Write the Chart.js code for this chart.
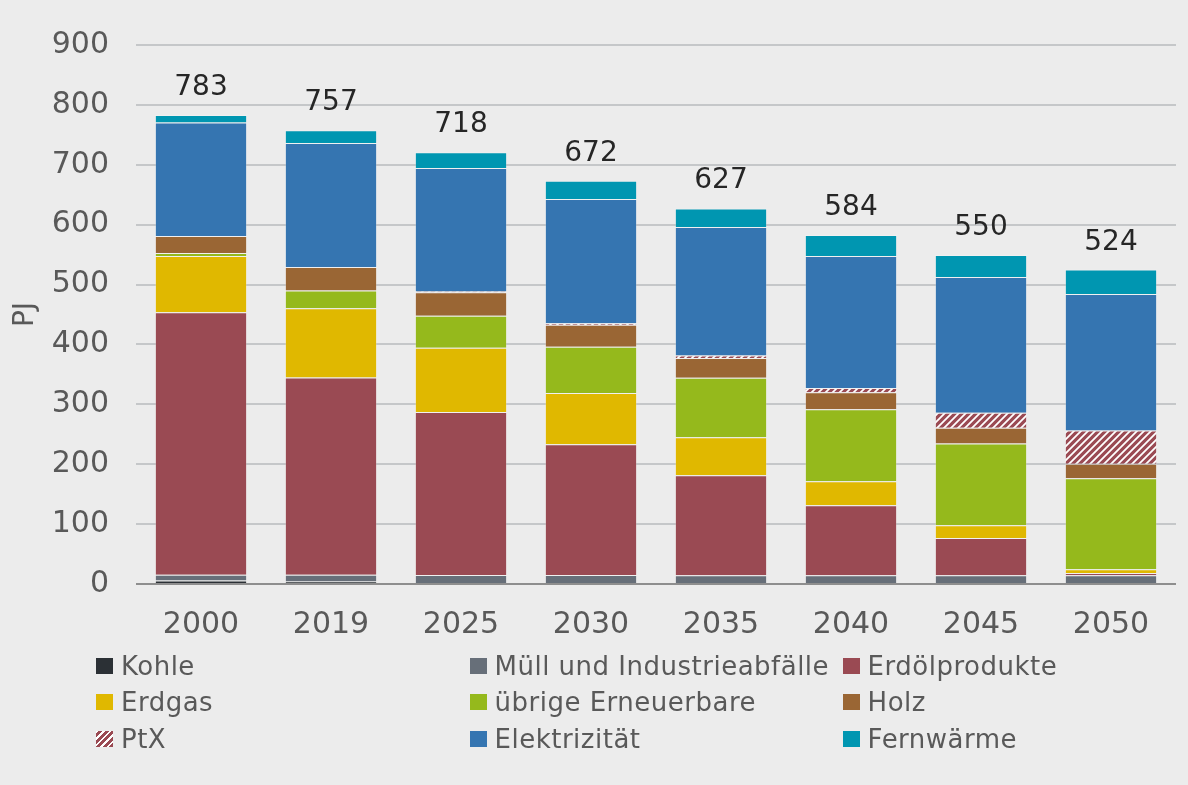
<!DOCTYPE html>
<html><head><meta charset="utf-8">
<script src="https://cdn.jsdelivr.net/npm/chart.js@4.4.1/dist/chart.umd.min.js"></script>
<style>
html,body{margin:0;padding:0;background:#ececec;}
#wrap{position:relative;width:1188px;height:785px;overflow:hidden;background:#ececec;}
canvas{position:absolute;left:0;top:0;}
.lg{position:absolute;height:30px;display:flex;align-items:center;font-family:"DejaVu Sans";font-size:26px;color:#595959;letter-spacing:0.5px;white-space:nowrap;}
.sw{width:17px;height:16px;margin-right:8px;flex:none;}
</style></head>
<body><div id="wrap"><canvas id="c" width="1188" height="785"></canvas><div id="legend"></div></div>
<script>
// ---- data (PJ) ----
const years = ['2000','2019','2025','2030','2035','2040','2045','2050'];
const kohle   = [6, 4, 0, 0, 0, 0, 0, 0];
const muell   = [9.5, 11.5, 15, 15, 14.5, 14.5, 14.5, 14.5];
const erdoel  = [438.3, 329.5, 272.2, 218.3, 167.2, 117.2, 62.2, 3.8];
const erdgas  = [94, 115.5, 107.3, 85.6, 63.3, 40, 21.6, 6.2];
const uebrige = [5, 29.5, 53.3, 77.2, 99.4, 120, 136.1, 152.2];
const holz    = [28.4, 39.5, 39.5, 36.7, 32.8, 28.3, 26.7, 23.9];
const ptx     = [0, 0, 1, 2.7, 4.5, 7.2, 25, 55.5];
const elektr  = [189.3, 206.7, 206.4, 207.3, 214.4, 220.6, 226.7, 228.3];
const fernw   = [12.8, 21.6, 26.1, 30.5, 31.1, 35, 36.6, 40.6];
const totals  = [783, 757, 718, 672, 627, 584, 550, 524];
const yTicks  = [0,100,200,300,400,500,600,700,800,900];

const names = ['Kohle','Müll und Industrieabfälle','Erdölprodukte','Erdgas','übrige Erneuerbare','Holz','PtX','Elektrizität','Fernwärme'];
const series = [kohle, muell, erdoel, erdgas, uebrige, holz, ptx, elektr, fernw];
const colors = ['#2b3035','#676f79','#9a4a53','#e0b800','#95b91c','#9a6634','PATTERN','#3575b1','#0096b1'];

function hatch(){
  const s=7; const c=document.createElement('canvas'); c.width=s; c.height=s;
  const g=c.getContext('2d');
  g.fillStyle='#9a4a53'; g.fillRect(0,0,s,s);
  g.strokeStyle='#ffffff'; g.lineWidth=1.8; g.beginPath();
  g.moveTo(0,s); g.lineTo(s,0);
  g.moveTo(-1,1); g.lineTo(1,-1);
  g.moveTo(s-1,s+1); g.lineTo(s+1,s-1);
  g.stroke();
  return document.getElementById('c').getContext('2d').createPattern(c,'repeat');
}
const pat = hatch();

const FONT = 'DejaVu Sans';
const datasets = series.map((d,i)=>({
  label: names[i], data: d,
  backgroundColor: colors[i]==='PATTERN' ? pat : colors[i],
  borderColor: 'rgba(255,255,255,0.22)', borderWidth: 1,
  barPercentage: 0.71, categoryPercentage: 1.0
}));

const totalsPlugin = {
  id:'totals',
  afterDatasetsDraw(chart){
    const ctx=chart.ctx;
    const n=chart.data.datasets.length;
    ctx.save();
    ctx.font='28px "'+FONT+'"'; ctx.fillStyle='#262626';
    ctx.textAlign='center'; ctx.textBaseline='alphabetic';
    chart.getDatasetMeta(n-1).data.forEach((bar,i)=>{
      ctx.fillText(String(totals[i]), bar.x, bar.y-20);
    });
    ctx.restore();
  }
};

new Chart(document.getElementById('c'), {
  type:'bar',
  data:{labels:years, datasets},
  plugins:[totalsPlugin],
  options:{
    responsive:false, animation:false, devicePixelRatio:1,
    layout:{padding:{top:43, right:12, bottom:141, left:0}},
    plugins:{legend:{display:false}, tooltip:{enabled:false}},
    scales:{
      x:{stacked:true,
         grid:{display:false, drawTicks:false}, border:{display:false},
         ticks:{font:{family:FONT,size:30}, color:'#595959', padding:23},
         afterFit(s){ s.height=60; }},
      y:{stacked:true, min:0, max:900,
         afterBuildTicks(s){ s.ticks = yTicks.map(v=>({value:v})); },
         ticks:{font:{family:FONT,size:30}, color:'#595959', padding:27},
         grid:{color:c=>c.tick && c.tick.value===0 ? '#8e8e8e' : '#c5c7c9', lineWidth:2, drawTicks:false},
         border:{display:false},
         title:{display:true, text:'PJ', font:{family:FONT,size:28}, color:'#595959', padding:{top:9,bottom:0}},
         afterFit(s){ s.width=136; }}
    }
  }
});

// HTML legend, built from the same names/colours
const lg=document.getElementById('legend');
const colX=[96,469.5,842.6], rowY=[666,702,739];
names.forEach((nm,i)=>{
  const d=document.createElement('div'); d.className='lg';
  d.style.left=colX[i%3]+'px'; d.style.top=(rowY[Math.floor(i/3)]-15)+'px';
  const sw=document.createElement('span'); sw.className='sw';
  if(colors[i]==='PATTERN'){ sw.style.background='repeating-linear-gradient(-45deg,#9a4a53 0 3px,#ffffff 3px 4.6px)'; }
  else sw.style.background=colors[i];
  const t=document.createElement('span'); t.textContent=nm;
  d.appendChild(sw); d.appendChild(t); lg.appendChild(d);
});
</script></body></html>
